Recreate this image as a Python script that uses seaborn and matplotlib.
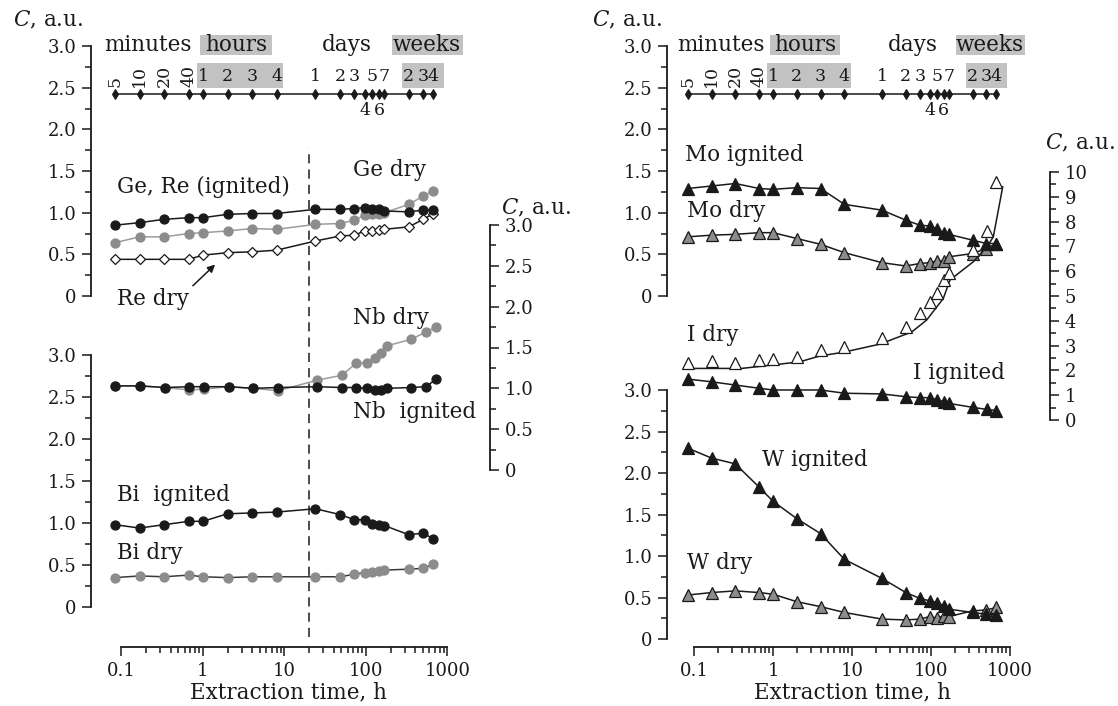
import numpy as np
import seaborn as sns
import matplotlib.pyplot as plt
from matplotlib.patches import Rectangle
from matplotlib.ticker import FixedLocator, FuncFormatter, NullLocator

# extraction times, h: 5/10/20/40 min, 1/2/4/8 h, 1..7 days, 2..4 weeks
t_h = [5/60, 10/60, 20/60, 40/60, 1, 2, 4, 8, 24, 48, 72, 96, 120, 144, 168, 336, 504, 672]

# left column
ge_re_ign = [0.85, 0.88, 0.92, 0.94, 0.94, 0.98, 0.99, 0.99, 1.04, 1.04, 1.05, 1.06, 1.05, 1.04, 1.02, 1.01, 1.03, 1.03]
ge_dry = [0.64, 0.71, 0.71, 0.75, 0.76, 0.78, 0.81, 0.80, 0.86, 0.87, 0.91, 0.97, 0.99, 0.99, 1.00, 1.10, 1.20, 1.26]
re_dry = [0.44, 0.44, 0.44, 0.44, 0.49, 0.52, 0.53, 0.55, 0.66, 0.72, 0.73, 0.78, 0.78, 0.79, 0.80, 0.83, 0.92, 0.99]
nb_ign = [1.03, 1.03, 1.01, 1.02, 1.02, 1.02, 1.00, 1.01, 1.02, 1.01, 1.01, 1.00, 0.98, 0.98, 1.00, 1.01, 1.02, 1.11]
nb_dry = [1.03, 1.03, 1.01, 0.98, 0.99, 1.02, 1.00, 0.97, 1.10, 1.16, 1.31, 1.31, 1.37, 1.43, 1.52, 1.60, 1.69, 1.75]
bi_ign = [0.98, 0.94, 0.98, 1.02, 1.02, 1.11, 1.12, 1.13, 1.17, 1.10, 1.04, 1.04, 0.99, 0.98, 0.97, 0.86, 0.88, 0.81]
bi_dry = [0.35, 0.37, 0.36, 0.38, 0.36, 0.35, 0.36, 0.36, 0.36, 0.36, 0.39, 0.41, 0.42, 0.43, 0.44, 0.45, 0.46, 0.51]

# right column
mo_ign = [1.29, 1.32, 1.35, 1.29, 1.28, 1.30, 1.29, 1.10, 1.03, 0.91, 0.85, 0.84, 0.80, 0.76, 0.74, 0.67, 0.63, 0.63]
mo_dry = [0.71, 0.73, 0.74, 0.76, 0.76, 0.69, 0.62, 0.52, 0.40, 0.36, 0.39, 0.40, 0.42, 0.42, 0.47, 0.51, 0.57, 0.63]
i_dry = [2.31, 2.39, 2.31, 2.42, 2.46, 2.55, 2.82, 2.96, 3.29, 3.76, 4.33, 4.77, 5.11, 5.65, 5.91, 6.85, 7.63, 9.61]
i_ign = [1.65, 1.54, 1.41, 1.28, 1.21, 1.21, 1.21, 1.08, 1.05, 0.94, 0.90, 0.90, 0.81, 0.74, 0.67, 0.51, 0.43, 0.38]
w_ign = [2.30, 2.18, 2.11, 1.83, 1.66, 1.45, 1.27, 0.96, 0.73, 0.56, 0.49, 0.46, 0.44, 0.40, 0.36, 0.32, 0.30, 0.29]
w_dry = [0.53, 0.56, 0.58, 0.56, 0.54, 0.45, 0.39, 0.32, 0.24, 0.23, 0.24, 0.27, 0.25, 0.28, 0.27, 0.34, 0.35, 0.38]

# smooth curve drawn through I dry
i_fit_t = [0.097, 0.4, 1.0, 2.2, 3.9, 7.7, 22.6, 57, 88, 143, 174, 343, 531, 615, 809]
i_fit = [2.08, 2.08, 2.22, 2.35, 2.58, 2.73, 3.06, 3.55, 4.03, 4.90, 5.65, 6.38, 7.06, 7.39, 9.41]

# time scale labels
min_labels = ['5', '10', '20', '40']
hour_labels = ['1', '2', '3', '4']
day_labels_up = ['1', '2', '3', '5', '7']
day_labels_low = ['4', '6']
week_labels = ['2', '3', '4']

sns.set_theme(style="ticks")
plt.rcParams['font.family'] = ['DejaVu Serif']
plt.rcParams['mathtext.fontset'] = 'dejavuserif'

BLK = '#1a1a1a'
GRY = '#8c8c8c'
BOX = '#c2c2c2'
TXT = 15.5
TCK = 13

W, H = 1118, 706
fig = plt.figure(figsize=(W / 100, H / 100), dpi=100)


def px_axes(l, t, r, b):
    return fig.add_axes([l / W, 1 - b / H, (r - l) / W, (b - t) / H])


def ftext(x, y, s, **kw):
    kw.setdefault('fontsize', TXT)
    fig.text(x / W, 1 - y / H, s, va='center', color=BLK, **kw)


yfmt = FuncFormatter(lambda v, p: '0' if abs(v) < 1e-9 else f'{v:.1f}')


def base(ax, xlim, ylim):
    ax.set_xscale('log')
    ax.set_xlim(*xlim)
    ax.set_ylim(*ylim)
    ax.patch.set_alpha(0)
    for s in ax.spines.values():
        s.set_visible(False)
        s.set_linewidth(1.3)
        s.set_color(BLK)
    ax.xaxis.set_major_locator(NullLocator())
    ax.xaxis.set_minor_locator(NullLocator())
    ax.tick_params(which='both', width=1.1, color=BLK, labelsize=TCK, labelcolor=BLK)
    ax.tick_params(which='major', length=6.5)
    ax.tick_params(which='minor', length=4.5)


def yspine(ax, side, top, step, fmt):
    ax.spines[side].set_visible(True)
    ax.spines[side].set_bounds(0, top)
    ax.yaxis.set_major_locator(FixedLocator(np.arange(0, top + 1e-6, step)))
    ax.yaxis.set_minor_locator(FixedLocator(np.arange(0, top + 1e-6, step / 2)))
    ax.yaxis.set_major_formatter(fmt)
    if side == 'right':
        ax.yaxis.tick_right()
    else:
        ax.yaxis.tick_left()
    ax.tick_params(axis='y', which='both', direction='out', pad=4)


def xspine(ax, label):
    ax.spines['bottom'].set_visible(True)
    ax.spines['bottom'].set_bounds(0.1, 1000)
    ax.xaxis.set_major_locator(FixedLocator([0.1, 1, 10, 100, 1000]))
    ax.xaxis.set_minor_locator(FixedLocator([m * 10.0 ** e for e in range(-1, 3) for m in range(2, 10)]))
    ax.xaxis.set_major_formatter(FuncFormatter(lambda v, p: f'{v:g}'))
    ax.tick_params(axis='x', which='both', direction='out', pad=4)
    ax.set_xlabel(label, fontsize=TXT, labelpad=1, color=BLK)


def curve(ax, x, y, marker, face, edge=BLK, line=BLK, ms=6.5, lw=1.1):
    sns.lineplot(x=x, y=y, ax=ax, color=line, lw=lw, marker=marker, markersize=ms,
                 markerfacecolor=face, markeredgecolor=edge, markeredgewidth=0.9,
                 errorbar=None, sort=False, zorder=3)


def timescale(ax):
    y0 = 2.42
    sns.lineplot(x=t_h, y=[y0] * len(t_h), ax=ax, color=BLK, lw=1.1, marker='d', markersize=5,
                 markerfacecolor=BLK, markeredgecolor=BLK, errorbar=None, sort=False)
    for x0, x1, y, h in [(0.84, 9.6, 2.50, 0.30), (277, 906, 2.50, 0.30),
                         (0.92, 7.0, 2.89, 0.24), (209, 1550, 2.89, 0.24)]:
        ax.add_patch(Rectangle((x0, y), x1 - x0, h, fc=BOX, ec='none', clip_on=False, zorder=0))
    kw = dict(ha='center', fontsize=12.5, color=BLK)
    for x, s in zip(t_h[0:4], min_labels):
        ax.text(x, 2.51, s, rotation=90, va='bottom', **kw)
    for x, s in zip(t_h[4:8], hour_labels):
        ax.text(x, 2.64, s, va='center', **kw)
    for x, s in zip([t_h[i] for i in (8, 9, 10, 12, 14)], day_labels_up):
        ax.text(x, 2.64, s, va='center', **kw)
    for x, s in zip([t_h[i] for i in (11, 13)], day_labels_low):
        ax.text(x, 2.23, s, va='center', **kw)
    for x, s in zip(t_h[15:18], week_labels):
        ax.text(x, 2.64, s, va='center', **kw)
    ax.text(0.062, 3.01, 'minutes', ha='left', va='center', fontsize=TXT, color=BLK)
    ax.text(2.54, 3.01, 'hours', ha='center', va='center', fontsize=TXT, color=BLK)
    ax.text(59, 3.01, 'days', ha='center', va='center', fontsize=TXT, color=BLK)
    ax.text(560, 3.01, 'weeks', ha='center', va='center', fontsize=TXT, color=BLK)


# ---------------- left column ----------------
xl = (10 ** -1.374, 10 ** 3.485)
axA = px_axes(91, 46, 487, 296)
base(axA, xl, (0, 3))
yspine(axA, 'left', 3, 0.5, yfmt)
timescale(axA)
curve(axA, t_h, ge_dry, 'o', GRY, edge=GRY, line='#9c9c9c')
curve(axA, t_h, re_dry, 'D', 'white', ms=5.5)
curve(axA, t_h, ge_re_ign, 'o', BLK)
axA.annotate('', xy=(1.49, 0.40), xytext=(0.71, 0.10),
             arrowprops=dict(arrowstyle='-|>', color=BLK, lw=1.1, mutation_scale=11))

axB = px_axes(91, 355, 487, 647)
base(axB, xl, (-0.476, 3))
yspine(axB, 'left', 3, 0.5, yfmt)
xspine(axB, 'Extraction time, h')
curve(axB, t_h, bi_dry, 'o', GRY, edge=GRY, line='#3a3a3a')
curve(axB, t_h, bi_ign, 'o', BLK)
axB.axvline(20, ymin=10 / 292, ymax=499 / 292, color=BLK, lw=1.1, ls=(0, (6, 4)), clip_on=False)

axN = px_axes(91, 225, 490, 470)
base(axN, xl, (0, 3))
yspine(axN, 'right', 3, 0.5, yfmt)
curve(axN, t_h, nb_dry, 'o', GRY, edge=GRY, line='#9c9c9c')
curve(axN, t_h, nb_ign, 'o', BLK)

ftext(13, 20, r'$C$, a.u.')
ftext(501, 208, r'$C$, a.u.')
ftext(117, 187, 'Ge, Re (ignited)')
ftext(353, 170, 'Ge dry')
ftext(117, 299, 'Re dry')
ftext(353, 318, 'Nb dry')
ftext(353, 412, 'Nb  ignited')
ftext(117, 495, 'Bi  ignited')
ftext(117, 553, 'Bi dry')

# ---------------- right column ----------------
xr = (10 ** -1.342, 10 ** 3.342)
axC = px_axes(667, 46, 1037, 296)
base(axC, xr, (0, 3))
yspine(axC, 'left', 3, 0.5, yfmt)
timescale(axC)
curve(axC, t_h, mo_dry, '^', GRY, ms=8)
curve(axC, t_h, mo_ign, '^', BLK, ms=8)

axD = px_axes(667, 390, 1037, 647)
base(axD, xr, (-0.096, 3))
yspine(axD, 'left', 3, 0.5, yfmt)
xspine(axD, 'Extraction time, h')
curve(axD, t_h, w_dry, '^', GRY, ms=8)
curve(axD, t_h, w_ign, '^', BLK, ms=8)

axI = px_axes(667, 172, 1050, 420)
base(axI, (10 ** -1.342, 10 ** 3.506), (0, 10))
yspine(axI, 'right', 10, 1, FuncFormatter(lambda v, p: f'{v:.0f}'))
sns.lineplot(x=i_fit_t, y=i_fit, ax=axI, color=BLK, lw=1.1, errorbar=None, sort=False)
curve(axI, t_h, i_dry, '^', 'white', lw=0, ms=8)
curve(axI, t_h, i_ign, '^', BLK, ms=8)

ftext(592, 20, r'$C$, a.u.')
ftext(1045, 143, r'$C$, a.u.')
ftext(685, 155, 'Mo ignited')
ftext(687, 211, 'Mo dry')
ftext(687, 335, 'I dry')
ftext(913, 373, 'I ignited')
ftext(762, 460, 'W ignited')
ftext(687, 563, 'W dry')

fig.savefig('out.png', dpi=100)
